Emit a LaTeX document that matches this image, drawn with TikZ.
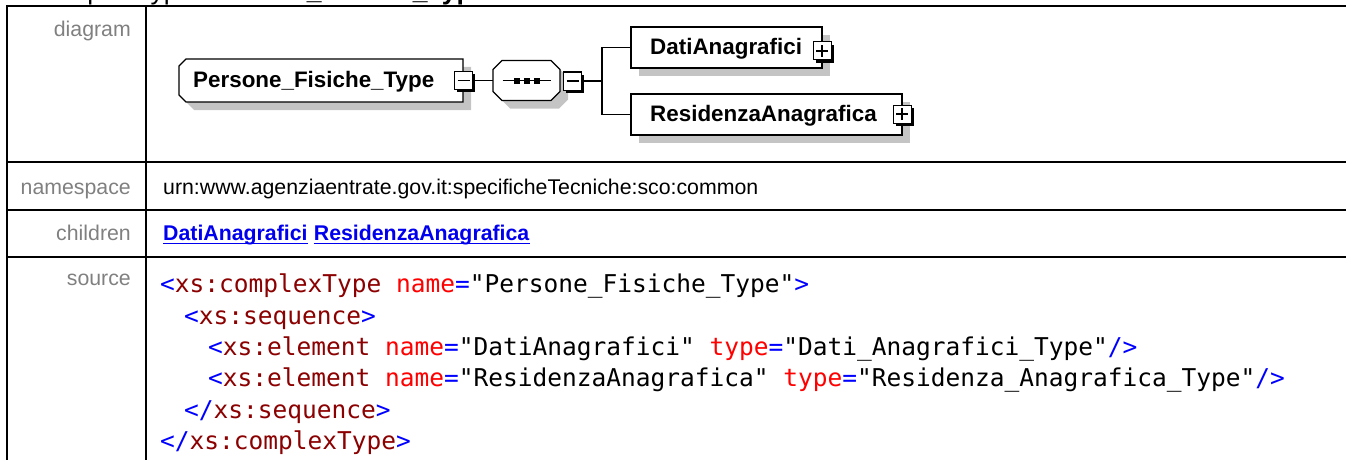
\documentclass[tikz,border=0pt]{standalone}
\usepackage{fontspec}
\setmainfont{Liberation Sans}
\setmonofont{DejaVu Sans Mono}
\usetikzlibrary{positioning,shadows}

\definecolor{sombra}{RGB}{196,196,196}
\definecolor{granate}{RGB}{139,0,0}
\definecolor{azulxml}{RGB}{0,0,255}
\definecolor{rojoxml}{RGB}{255,0,0}
\definecolor{etiq}{RGB}{128,128,128}
\definecolor{enlace}{RGB}{0,0,238}

\newcommand{\xmlpunt}[1]{\textcolor{azulxml}{#1}}
\newcommand{\xmltag}[1]{\textcolor{granate}{#1}}
\newcommand{\xmlattr}[1]{\textcolor{rojoxml}{#1}}

\tikzset{
  borde/.style={line width=2pt},
  etiqueta/.style={inner sep=0pt, anchor=base east, text=etiq, font=\fontsize{21.3pt}{25pt}\selectfont},
  valor/.style={inner sep=0pt, anchor=base west, font=\fontsize{21.3pt}{25pt}\selectfont},
  enlacehijo/.style={valor, text=enlace, font=\fontsize{21.3pt}{25pt}\selectfont\bfseries},
  subrayado/.style={enlace, line width=1.5pt},
  titular/.style={inner sep=0pt, anchor=base west, font=\fontsize{26.5pt}{30pt}\selectfont},
  codigo/.style={inner sep=0pt, anchor=base west, font=\fontsize{24.5pt}{30pt}\selectfont\ttfamily},
  contorno/.style={line width=1.4pt, fill=white},
  marco/.style={inner sep=0pt, outer sep=0pt},
  caja/.style={draw, line width=1.4pt, fill=white, inner sep=0pt,
    drop shadow={shadow xshift=8pt, shadow yshift=-8pt, fill=sombra, opacity=1}},
  nombre/.style={inner sep=0pt, anchor=base west, font=\fontsize{22.4pt}{26pt}\selectfont\bfseries},
  boton/.style={draw, line width=1pt, fill=white, minimum size=18pt, inner sep=0pt,
    drop shadow={shadow xshift=2.8pt, shadow yshift=-2.8pt, fill=black, opacity=1}},
  menos/.style={boton, path picture={
    \draw[line width=1.3pt] ([xshift=-6pt]path picture bounding box.center) -- ([xshift=6pt]path picture bounding box.center);}},
  mas/.style={boton, path picture={
    \draw[line width=1.3pt] ([xshift=-6pt]path picture bounding box.center) -- ([xshift=6pt]path picture bounding box.center);
    \draw[line width=1.3pt] ([yshift=-6pt]path picture bounding box.center) -- ([yshift=6pt]path picture bounding box.center);}},
  conector/.style={line width=1.4pt}
}

\begin{document}
\begin{tikzpicture}[x=1pt, y=-1pt]
  \useasboundingbox (0,0) rectangle (1346,460);

  % Titulo (cortado arriba)
  \node[titular] (tipo) at (37,0) {complexType};
  \node[titular, font=\fontsize{26.5pt}{30pt}\selectfont\bfseries] (titulo) at (202,0) {Persone\_Fisiche\_Type};

  % Tabla
  \draw[borde] (7,6) -- (1346,6);
  \draw[borde] (7,5) -- (7,460);
  \draw[borde] (146,6) -- (146,460);
  \foreach \y in {162,210,257}
    \draw[borde] (7,\y) -- (1346,\y);

  % Etiquetas
  \node[etiqueta] (ldiag) at (131,37) {diagram};
  \node[etiqueta] (lns) at (131,194.5) {namespace};
  \node[etiqueta] (lhijos) at (131,240.5) {children};
  \node[etiqueta] (lsrc) at (131,285) {source};

  % Valores
  \node[valor] (ns) at (163,194.5) {urn:www.agenziaentrate.gov.it:specificheTecniche:sco:common};
  \node[enlacehijo] (hdati) at (163,240.5) {DatiAnagrafici};
  \node[enlacehijo, base right=5.9pt of hdati] (hres) {ResidenzaAnagrafica};
  \draw[subrayado] ([yshift=-3pt]hdati.base west) -- ([yshift=-3pt]hdati.base east);
  \draw[subrayado] ([yshift=-3pt]hres.base west) -- ([yshift=-3pt]hres.base east);

  % Diagrama: tipo complejo (esquinas cortadas a la izquierda)
  \fill[sombra] (194,67) -- (471,67) -- (471,110) -- (194,110) -- (187,103) -- (187,74) -- cycle;
  \draw[contorno] (186,59) -- (463,59) -- (463,102) -- (186,102) -- (179,95) -- (179,66) -- cycle;
  \node[marco, minimum width=284pt, minimum height=43pt] (pft) at (321,80.5) {};
  \node[menos] (pftm) at (463.5,80.5) {};

  % Secuencia (octogono)
  \fill[sombra] (510,68.5) -- (559,68.5) -- (568,77.5) -- (568,99.5) -- (559,108.5) -- (510,108.5) -- (501,99.5) -- (501,77.5) -- cycle;
  \draw[contorno] (502,60.5) -- (551,60.5) -- (560,69.5) -- (560,91.5) -- (551,100.5) -- (502,100.5) -- (493,91.5) -- (493,69.5) -- cycle;
  \node[marco, minimum width=67pt, minimum height=40pt] (seq) at (526.5,80.5) {};
  \draw[line width=1.4pt] ([xshift=-24pt]seq.center) -- ([xshift=24pt]seq.center);
  \foreach \dx in {-10,0,10}
    \fill ([xshift=\dx pt]seq.center) +(-3,-3) rectangle +(3,3);
  \node[menos] (seqm) at (572.5,81) {};

  % Elementos hijos
  \node[caja, minimum width=191pt, minimum height=41pt] (dati) at (726.5,47.5) {};
  \node[mas] (datip) at (822,51) {};
  \node[caja, minimum width=271pt, minimum height=41pt] (res) at (766.5,114.5) {};
  \node[mas] (resp) at (902,114) {};

  % Textos del diagrama
  \node[nombre] (tpft) at (193,87.5) {Persone\_Fisiche\_Type};
  \node[nombre] (tdati) at (650,55) {DatiAnagrafici};
  \node[nombre] (tres) at (650,121) {ResidenzaAnagrafica};

  % Conectores
  \coordinate (rama) at (602,81);
  \draw[conector] (pftm.east) -- (seq.west);
  \draw[conector] (seqm.east) -- (rama);
  \draw[conector] (rama) |- (dati.west);
  \draw[conector] (rama) |- (res.west);

  % Codigo fuente
  \node[codigo] (src1) at (160,292.7) {\xmlpunt{<}\xmltag{xs:complexType} \xmlattr{name}\xmlpunt{=}"Persone\_Fisiche\_Type"\xmlpunt{>}};
  \node[codigo] (src2) at (184,324.1) {\xmlpunt{<}\xmltag{xs:sequence}\xmlpunt{>}};
  \node[codigo] (src3) at (208,355.5) {\xmlpunt{<}\xmltag{xs:element} \xmlattr{name}\xmlpunt{=}"DatiAnagrafici" \xmlattr{type}\xmlpunt{=}"Dati\_Anagrafici\_Type"\xmlpunt{/>}};
  \node[codigo] (src4) at (208,386.9) {\xmlpunt{<}\xmltag{xs:element} \xmlattr{name}\xmlpunt{=}"ResidenzaAnagrafica" \xmlattr{type}\xmlpunt{=}"Residenza\_Anagrafica\_Type"\xmlpunt{/>}};
  \node[codigo] (src5) at (184,418.3) {\xmlpunt{</}\xmltag{xs:sequence}\xmlpunt{>}};
  \node[codigo] (src6) at (160,449.7) {\xmlpunt{</}\xmltag{xs:complexType}\xmlpunt{>}};
\end{tikzpicture}
\end{document}
